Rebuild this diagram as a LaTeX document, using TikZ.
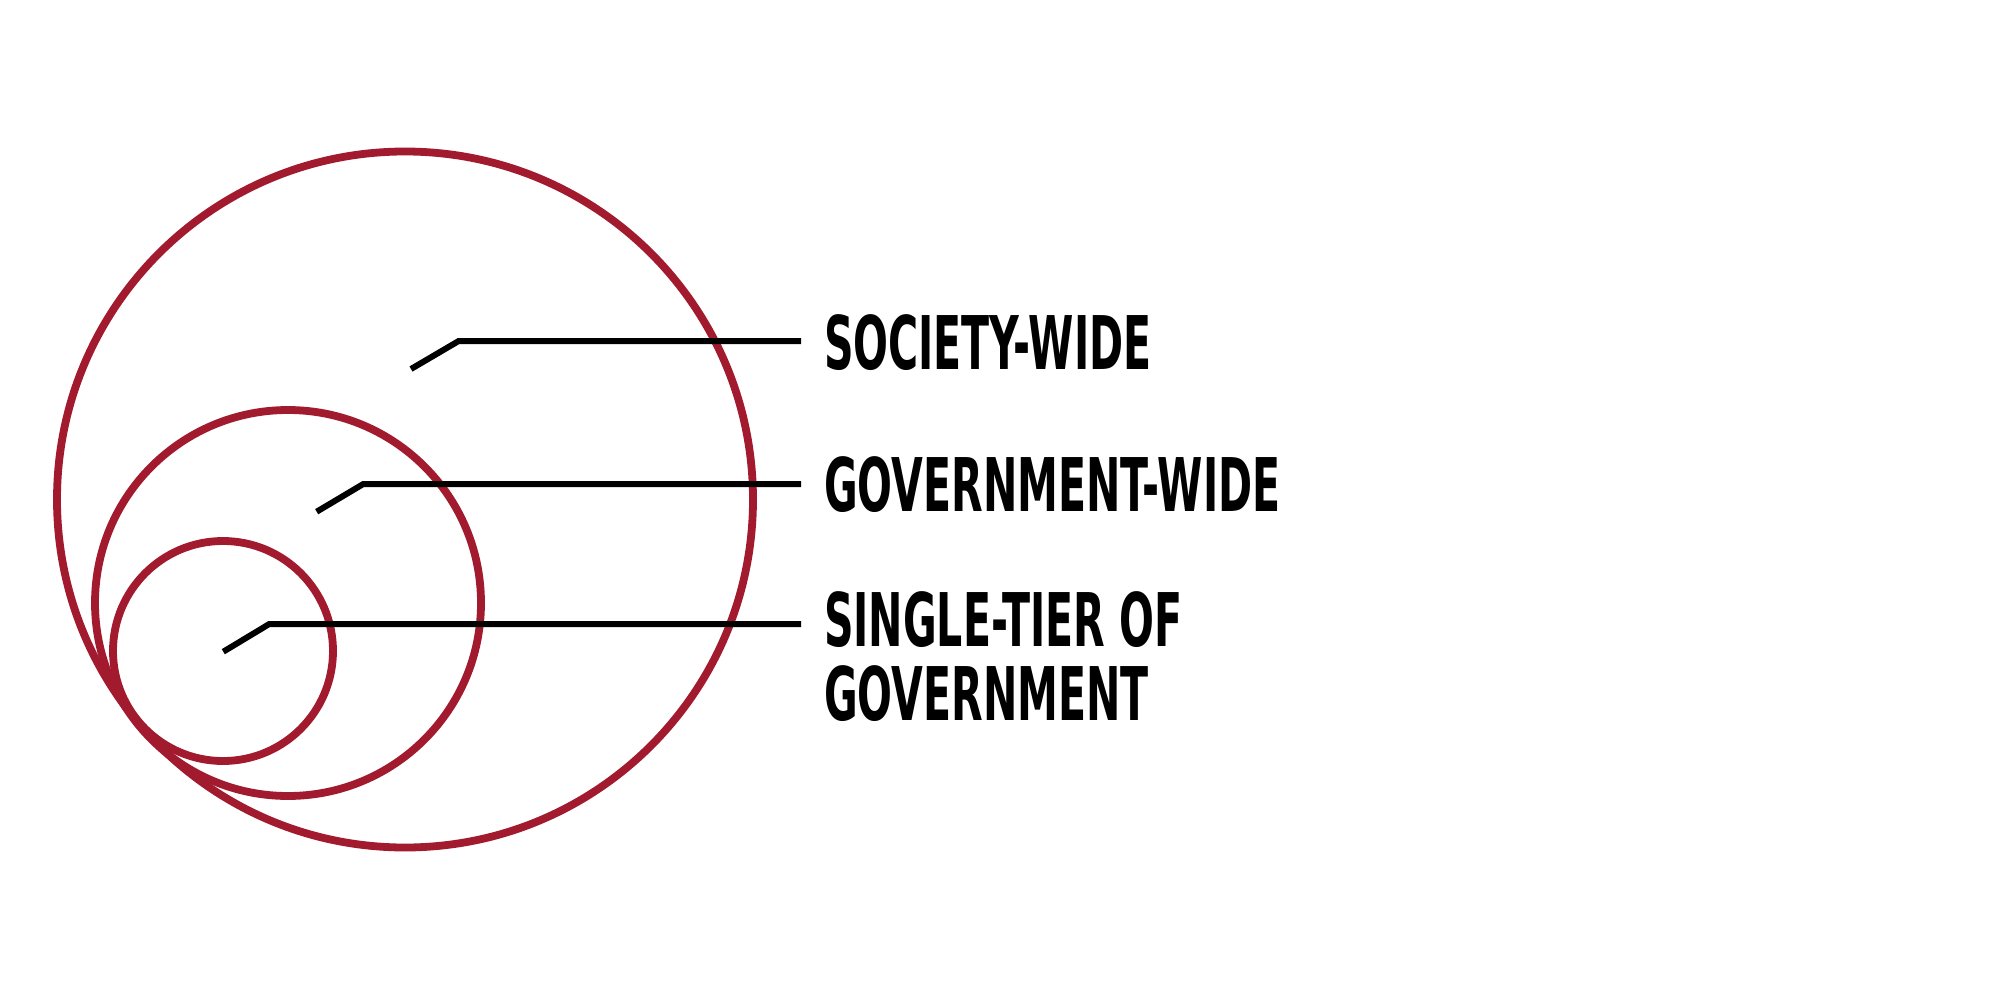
\documentclass[tikz,border=0pt]{standalone}
\usepackage{fontspec}
\newfontfamily\labelfont[FakeStretch=0.555]{DejaVu Sans}
\definecolor{ringred}{RGB}{162,26,46}
\tikzset{
  ring/.style={circle, draw=ringred, line width=3.9pt, inner sep=0pt, outer sep=0pt},
  leader/.style={draw=black, line width=3pt},
  tierlabel/.style={anchor=base west, inner sep=0pt, outer sep=0pt, align=left,
    font={\labelfont\bfseries\fontsize{37}{36.65}\selectfont}}
}
\begin{document}
\begin{tikzpicture}[x=0.5pt, y=-0.5pt]
  \useasboundingbox (0,0) rectangle (2000,1000);

  % nested rings, all touching at the lower left
  \node[ring, minimum size=348pt] (society ring) at (405,499.5) {};
  \node[ring, minimum size=193pt] (government ring) at (288,603) {};
  \node[ring, minimum size=110pt] (tier ring) at (223,651) {};

  % labels (a two-line label sits on the baseline of its last line)
  \node[tierlabel] (society) at (824,369) {SOCIETY-WIDE};
  \node[tierlabel] (government) at (824,511.3) {GOVERNMENT-WIDE};
  \node[tierlabel] (tier) at (824,720) {SINGLE-TIER OF\\GOVERNMENT};

  % leader lines from inside each ring out to its label
  \coordinate (society tip) at (411,369);
  \coordinate (society bend) at (458.7,341);
  \coordinate (society end) at (801,341);
  \coordinate (government tip) at (316.7,511.7);
  \coordinate (government bend) at (363.3,484);
  \coordinate (government end) at (801,484);
  \coordinate (tier tip) at (223.3,651.7);
  \coordinate (tier bend) at (269.3,624);
  \coordinate (tier end) at (801,624);

  \draw[leader] (society tip) -- (society bend) -- (society end);
  \draw[leader] (government tip) -- (government bend) -- (government end);
  \draw[leader] (tier tip) -- (tier bend) -- (tier end);
\end{tikzpicture}
\end{document}
